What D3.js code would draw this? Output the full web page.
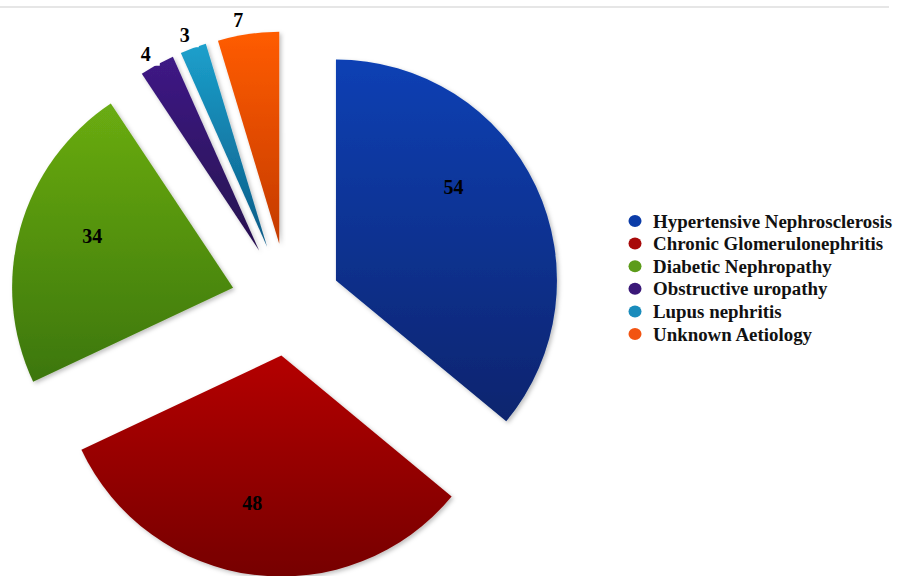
<!DOCTYPE html>
<meta charset="utf-8">
<style>
body { margin: 0; background: #fff; }
text { font-family: "Liberation Serif", "Times New Roman", serif; font-weight: bold; }
</style>
<body>
<script src="https://d3js.org/d3.v7.min.js"></script>
<script>

// data
var causes = ["Hypertensive Nephrosclerosis", "Chronic Glomerulonephritis", "Diabetic Nephropathy",
              "Obstructive uropathy", "Lupus nephritis", "Unknown Aetiology"];
var counts = [54, 48, 34, 4, 3, 7];

var colorsLight = ["#0a40b4", "#b40606", "#6aac12", "#3e1a86", "#1ca0cc", "#ff5c02"];
var colorsDark  = ["#08246e", "#760000", "#3c760a", "#26104e", "#0a5a86", "#c43a00"];
var legendColors = ["#0b3ca8", "#a80a0a", "#5c9c1a", "#3a1878", "#1a8cbc", "#f25412"];

var width = 902, height = 576;
var cx = 288, cy = 303;

var svg = d3.select("body").append("svg")
  .attr("width", width)
  .attr("height", height);

var defs = svg.append("defs");

// soft shadow
var f = defs.append("filter").attr("id", "shadow")
  .attr("x", "-10%").attr("y", "-10%").attr("width", "130%").attr("height", "130%");
f.append("feDropShadow").attr("dx", 2).attr("dy", 2).attr("stdDeviation", 2)
  .attr("flood-color", "#000").attr("flood-opacity", 0.25);

// gradients
causes.forEach(function(c, i) {
  var g = defs.append("linearGradient").attr("id", "grad" + i)
    .attr("x1", 0).attr("y1", 0).attr("x2", 0).attr("y2", 1);
  g.append("stop").attr("offset", "0%").attr("stop-color", colorsLight[i]);
  g.append("stop").attr("offset", "100%").attr("stop-color", colorsDark[i]);
});

// faint top border
svg.append("line")
  .attr("x1", 0).attr("x2", 889).attr("y1", 7).attr("y2", 7)
  .attr("stroke", "#e6e6e6").attr("stroke-width", 2);

var pie = d3.pie().sort(null).value(function(d) { return d; });
var arcs = pie(counts);

function isSmall(d) { return d.value < 10; }
function outerR(d) { return isSmall(d) ? 212 : 221; }
function explode(d) {
  if (isSmall(d)) return 60;
  return d.index === 2 ? 57 : 53;
}
function offset(d) {
  var a = (d.startAngle + d.endAngle) / 2;
  var e = explode(d);
  return [Math.sin(a) * e, -Math.cos(a) * e];
}

// nudges so labels sit where the original put them
var labelShift = [-0.23, 0.07, 0.08, -0.02, -0.015, -0.035];

var arc = d3.arc().innerRadius(0).outerRadius(function(d) { return outerR(d); });

var g = svg.append("g").attr("transform", "translate(" + cx + "," + cy + ")");

var slices = g.selectAll(".slice")
  .data(arcs)
  .enter().append("g")
  .attr("class", "slice")
  .attr("transform", function(d) { var o = offset(d); return "translate(" + o[0] + "," + o[1] + ")"; });

slices.append("path")
  .attr("d", arc)
  .attr("fill", function(d, i) { return "url(#grad" + i + ")"; })
  .attr("filter", "url(#shadow)");

// labels
slices.each(function(d) {
  var a = (d.startAngle + d.endAngle) / 2 + labelShift[d.index];
  var r = isSmall(d) ? outerR(d) + 15 : 150;
  var lx = Math.sin(a) * r, ly = -Math.cos(a) * r;
  var sel = d3.select(this);
  if (isSmall(d)) {
    sel.append("rect")
      .attr("x", lx - 14).attr("y", ly - 12).attr("width", 28).attr("height", 24)
      .attr("fill", "#fff");
  }
  sel.append("text")
    .attr("x", lx).attr("y", ly)
    .attr("text-anchor", "middle")
    .attr("dominant-baseline", "central")
    .attr("font-size", 20)
    .attr("fill", "#000")
    .text(d.value);
});

// legend
var legend = svg.append("g").attr("transform", "translate(635,221)");
var rows = legend.selectAll(".row")
  .data(causes)
  .enter().append("g")
  .attr("class", "row")
  .attr("transform", function(d, i) { return "translate(0," + (i * 22.6) + ")"; });

rows.append("ellipse")
  .attr("rx", 6.5).attr("ry", 6)
  .attr("fill", function(d, i) { return legendColors[i]; });

rows.append("text")
  .attr("x", 18).attr("y", 0)
  .attr("dominant-baseline", "central")
  .attr("font-size", 18.9)
  .attr("fill", "#111")
  .text(function(d) { return d; });

</script>
</body>
